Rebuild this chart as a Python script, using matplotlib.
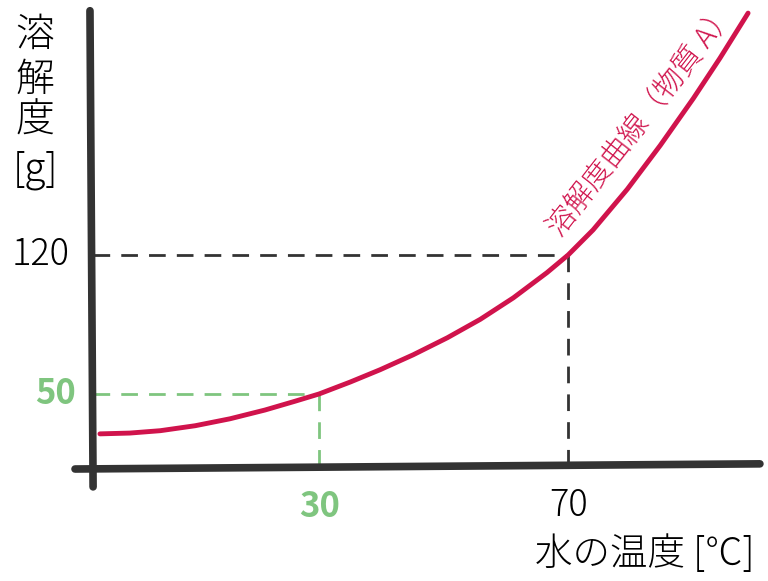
import matplotlib.pyplot as plt

plt.rcParams['font.family'] = ['Noto Sans CJK JP', 'DejaVu Sans']

# 溶解度曲線
temp = [-5.2, -0.4, 4.5, 10.1, 15.7, 21.3, 26.1, 30, 35.0, 39.8, 45.1, 50.6,
        55.9, 61.2, 66.6, 70, 74.0, 79.5, 84.8, 90.1, 94.4, 98.9]
solubility = [29.9, 30.3, 31.5, 34.0, 37.5, 41.9, 46.3, 50, 56.0, 62.2, 69.7, 78.3,
              87.6, 98.4, 111.1, 120, 132.6, 153.1, 175.2, 198.8, 219.2, 241.8]

green_pt = (30, 50)
black_pt = (70, 120)
ylabel_chars = ['溶', '解', '度', '[g]']

red = '#d0134c'
green = '#7fc57f'
dark = '#333333'

fig = plt.figure(figsize=(7.68, 5.81), dpi=100)
ax = fig.add_axes([0, 0, 1, 1])
ax.set_xlim(-21.25, 102.1)
ax.set_ylim(-44.2, 248.4)
ax.axis('off')

# 手描き風の軸
ax.plot([-6.8, -6.3], [243, 3.2], color=dark, lw=5.5, solid_capstyle='round', zorder=3)
ax.plot([-9.2, 100.8], [12.2, 14.8], color=dark, lw=5.5, solid_capstyle='round', zorder=3)

# 補助線
x0 = -6.3
ax.plot([x0, green_pt[0]], [green_pt[1], green_pt[1]], color=green, lw=2, dashes=(6, 4))
ax.plot([green_pt[0], green_pt[0]], [green_pt[1], 13.5], color=green, lw=2, dashes=(6, 4))
ax.plot([x0, black_pt[0]], [black_pt[1], black_pt[1]], color=dark, lw=2, dashes=(6, 4))
ax.plot([black_pt[0], black_pt[0]], [black_pt[1], 14], color=dark, lw=2, dashes=(6, 4))

ax.plot(temp, solubility, color=red, lw=3.5, solid_capstyle='round',
        solid_joinstyle='round', zorder=4)

# ラベル
for ch, y in zip(ylabel_chars, [230.8, 208.1, 187.4, 162.8]):
    ax.text(-15.6, y, ch, fontsize=28, ha='center', va='center', fontweight='light')
ax.text(-10.0, black_pt[1], '120', fontsize=26, ha='right', va='center', fontweight='light')
ax.text(-9.0, green_pt[1], '50', fontsize=25, ha='right', va='center',
        color=green, fontweight='bold')
ax.text(green_pt[0], -6.5, '30', fontsize=25, ha='center', va='center',
        color=green, fontweight='bold')
ax.text(black_pt[0], -6.5, '70', fontsize=26, ha='center', va='center', fontweight='light')
ax.text(100, -30.5, '水の温度 [℃]', fontsize=27, ha='right', va='center', fontweight='light')
ax.text(81.9, 187.5, '溶解度曲線（物質 A）', fontsize=21, color=red, fontweight='light',
        rotation=52, rotation_mode='anchor', ha='center', va='center')

fig.savefig('out.png', dpi=100, facecolor='white')
